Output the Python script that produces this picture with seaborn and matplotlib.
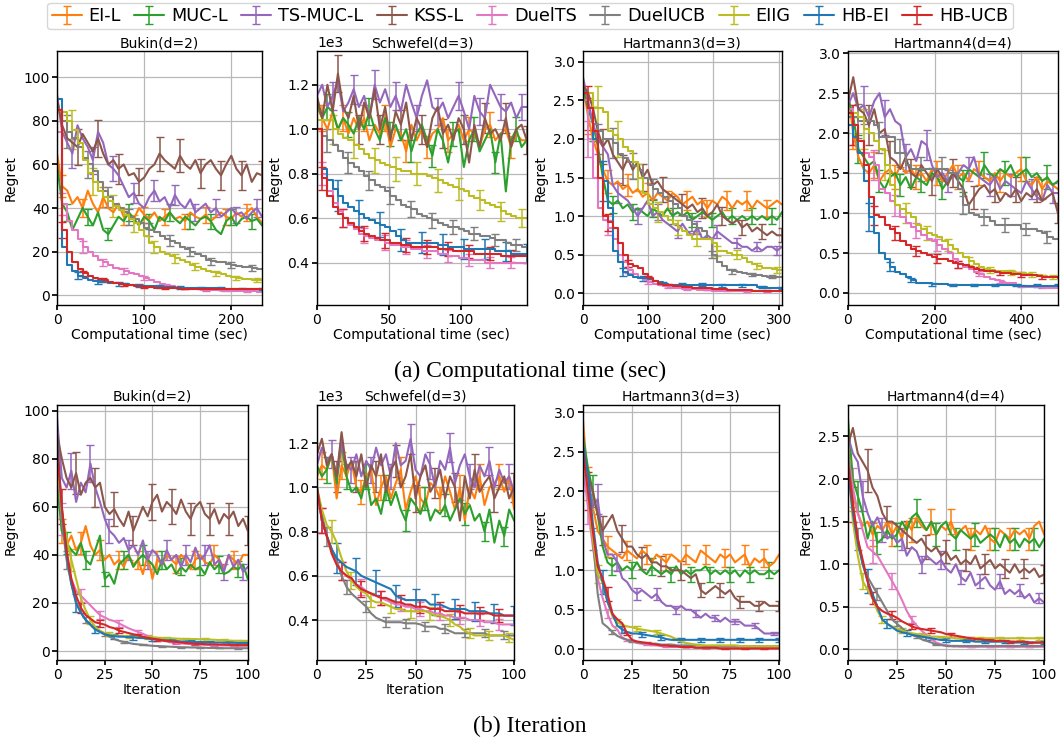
import matplotlib
matplotlib.use("Agg")
import matplotlib.pyplot as plt
import numpy as np
import seaborn as sns

# ---------------------------------------------------------------------------
# Methods / colours
# ---------------------------------------------------------------------------
methods = ["EI-L", "MUC-L", "TS-MUC-L", "KSS-L", "DuelTS", "DuelUCB", "EIIG", "HB-EI", "HB-UCB"]
pal = sns.color_palette("tab10")
colors = [pal[1], pal[2], pal[4], pal[5], pal[6], pal[7], pal[8], pal[0], pal[3]]
err_frac = [0.10, 0.10, 0.10, 0.12, 0.12, 0.10, 0.12, 0.18, 0.12]
noisy = ["EI-L", "MUC-L", "TS-MUC-L", "KSS-L"]

# ---------------------------------------------------------------------------
# (a) Computational time -- values sampled evenly over the visible time range
# ---------------------------------------------------------------------------
# Bukin(d=2), 0..236 sec
bukin_t_eil = [65, 50, 48, 42, 45, 40, 48, 42, 38, 45, 40, 38, 42, 36, 38, 35, 40, 37, 35, 38, 34, 36, 38, 35, 36, 34, 38, 36, 35, 37, 34, 36, 38, 36, 35, 38, 36, 38, 40, 36, 33]
bukin_t_mucl = [60, 42, 38, 30, 35, 40, 36, 32, 38, 30, 28, 32, 36, 34, 38, 35, 32, 36, 34, 30, 36, 34, 38, 35, 33, 36, 34, 32, 35, 36, 34, 30, 28, 34, 36, 32, 35, 36, 34, 35, 32]
bukin_t_tsmucl = [92, 75, 70, 65, 78, 72, 68, 62, 75, 70, 60, 58, 55, 50, 45, 47, 42, 40, 45, 48, 43, 45, 40, 46, 42, 40, 44, 38, 40, 42, 38, 40, 36, 38, 40, 37, 38, 35, 38, 40, 36]
bukin_t_kssl = [90, 78, 72, 70, 68, 74, 70, 66, 72, 65, 60, 62, 58, 60, 55, 56, 52, 54, 58, 60, 65, 62, 60, 58, 64, 60, 58, 62, 56, 60, 62, 58, 55, 60, 64, 58, 55, 60, 52, 56, 55]
bukin_t_dts = [75, 42, 34, 30, 26, 22, 20, 18, 16, 15, 14, 12.5, 12, 11, 10, 9.5, 9, 8, 7, 6, 5, 4.5, 4, 3.5, 3.2, 3, 2.8, 2.6, 2.5, 2.4, 2.3, 2.2, 2.1, 2, 2, 1.9, 1.8, 1.8, 1.7, 1.6, 1.5]
bukin_t_ducb = [85, 80, 75, 72, 68, 63, 60, 57, 52, 48, 45, 42, 40, 38, 36, 35, 33, 31, 30, 29, 27, 26, 25, 24, 22, 21, 20, 19, 18, 16, 15.5, 15, 15, 14.5, 14, 13.5, 13, 13, 12.5, 12, 12]
bukin_t_eiig = [85, 84, 80, 76, 70, 62, 56, 52, 48, 45, 43, 41, 39, 37, 35, 33, 30, 27, 24, 22, 20, 19, 18, 17, 16, 15, 14, 13, 12, 11, 10.5, 10, 9.5, 9, 8.5, 8, 7.5, 7.2, 7, 7, 7]
bukin_t_hbei = [90, 22, 14, 11, 9, 8, 7, 6.5, 6, 6, 5.5, 5.5, 5, 5, 4.8, 4.5, 4.3, 4.2, 4, 4, 3.8, 3.7, 3.6, 3.5, 3.5, 3.4, 3.3, 3.3, 3.2, 3.2, 3.1, 3.1, 3, 3, 3, 3, 2.9, 2.9, 2.9, 2.9, 2.9]
bukin_t_hbucb = [85, 30, 20, 15, 12, 10, 9, 8, 7.5, 7, 6, 5.5, 5, 4.8, 4.5, 4.2, 4, 3.8, 3.6, 3.5, 3.4, 3.3, 3.2, 3.1, 3.0, 3.0, 3.0, 2.9, 2.9, 2.9, 2.8, 2.8, 2.8, 2.7, 2.7, 2.7, 2.6, 2.6, 2.6, 2.6, 2.6]

# Schwefel(d=3), 0..146 sec, regret in units of 1e3
schw_t_eil = [1.10, 1.05, 1.00, 1.08, 1.00, 1.05, 0.98, 1.05, 1.00, 1.05, 0.95, 1.02, 0.98, 1.05, 0.92, 1.00, 0.98, 0.90, 1.02, 0.95, 1.00, 0.92, 0.98, 1.00, 1.05, 0.95, 0.98, 1.02, 0.95, 1.00, 0.98, 0.92, 1.00, 1.02, 0.95, 0.98, 1.00, 0.92, 0.98, 0.95, 0.95]
schw_t_mucl = [1.12, 1.05, 1.10, 1.08, 1.00, 1.05, 1.02, 0.98, 1.05, 1.00, 1.08, 1.00, 0.95, 1.05, 0.98, 1.02, 0.95, 1.00, 0.90, 0.98, 1.02, 0.95, 0.88, 1.00, 0.95, 0.85, 0.98, 1.00, 0.83, 0.95, 1.00, 0.90, 0.95, 1.00, 0.85, 0.98, 0.72, 0.95, 1.00, 0.92, 0.95]
schw_t_tsmucl = [1.15, 1.20, 1.10, 1.15, 1.22, 1.08, 1.12, 1.18, 1.10, 1.15, 1.05, 1.20, 1.12, 1.18, 1.10, 1.15, 1.08, 1.20, 1.12, 1.05, 1.15, 1.22, 1.10, 1.08, 1.12, 1.05, 1.10, 1.15, 1.08, 1.00, 1.15, 1.08, 1.05, 1.20, 1.15, 1.10, 1.08, 1.12, 1.05, 1.10, 1.10]
schw_t_kssl = [1.15, 1.05, 1.20, 1.08, 1.25, 1.10, 1.05, 1.15, 1.00, 1.12, 1.05, 1.18, 1.00, 1.10, 0.95, 1.08, 1.02, 1.12, 0.95, 1.05, 1.00, 0.92, 1.05, 1.10, 0.98, 1.02, 0.95, 1.05, 1.00, 0.85, 1.02, 0.92, 1.05, 0.98, 1.00, 0.95, 1.05, 0.92, 1.00, 1.02, 0.95]
schw_t_dts = [1.00, 0.80, 0.72, 0.67, 0.63, 0.60, 0.57, 0.55, 0.53, 0.52, 0.51, 0.50, 0.50, 0.49, 0.48, 0.48, 0.47, 0.47, 0.46, 0.46, 0.45, 0.45, 0.45, 0.44, 0.44, 0.43, 0.43, 0.42, 0.42, 0.41, 0.41, 0.41, 0.40, 0.40, 0.40, 0.40, 0.40, 0.40, 0.40, 0.40, 0.40]
schw_t_ducb = [1.00, 0.97, 0.95, 0.93, 0.90, 0.87, 0.85, 0.83, 0.81, 0.79, 0.77, 0.75, 0.74, 0.72, 0.70, 0.68, 0.66, 0.65, 0.64, 0.62, 0.61, 0.60, 0.59, 0.58, 0.57, 0.56, 0.56, 0.55, 0.54, 0.53, 0.53, 0.52, 0.52, 0.51, 0.50, 0.50, 0.49, 0.48, 0.48, 0.47, 0.47]
schw_t_eiig = [1.04, 1.04, 1.04, 1.00, 0.98, 0.96, 0.95, 0.93, 0.91, 0.89, 0.87, 0.86, 0.85, 0.84, 0.83, 0.82, 0.81, 0.81, 0.80, 0.80, 0.80, 0.79, 0.78, 0.77, 0.76, 0.75, 0.74, 0.73, 0.72, 0.70, 0.69, 0.68, 0.67, 0.66, 0.65, 0.63, 0.62, 0.61, 0.60, 0.60, 0.60]
schw_t_hbei = [1.00, 0.82, 0.77, 0.73, 0.70, 0.67, 0.65, 0.63, 0.62, 0.60, 0.59, 0.58, 0.57, 0.56, 0.54, 0.52, 0.50, 0.49, 0.49, 0.49, 0.49, 0.49, 0.49, 0.48, 0.48, 0.47, 0.47, 0.47, 0.46, 0.46, 0.46, 0.46, 0.46, 0.46, 0.45, 0.45, 0.45, 0.44, 0.44, 0.44, 0.44]
schw_t_hbucb = [1.00, 0.78, 0.70, 0.65, 0.62, 0.60, 0.58, 0.56, 0.54, 0.53, 0.52, 0.51, 0.50, 0.50, 0.49, 0.49, 0.48, 0.48, 0.47, 0.47, 0.47, 0.47, 0.47, 0.46, 0.46, 0.46, 0.45, 0.45, 0.45, 0.45, 0.44, 0.44, 0.44, 0.44, 0.44, 0.43, 0.43, 0.43, 0.43, 0.43, 0.43]

# Hartmann3(d=3), 0..305 sec
h3_t_eil = [2.7, 2.3, 2.0, 1.8, 1.6, 1.45, 1.4, 1.45, 1.35, 1.4, 1.3, 1.35, 1.25, 1.3, 1.2, 1.3, 1.25, 1.2, 1.3, 1.25, 1.15, 1.2, 1.25, 1.15, 1.2, 1.1, 1.2, 1.15, 1.25, 1.2, 1.1, 1.2, 1.15, 1.2, 1.1, 1.2, 1.15, 1.1, 1.15, 1.2, 1.15]
h3_t_mucl = [2.7, 2.4, 2.2, 1.9, 1.5, 1.2, 1.15, 1.2, 1.1, 1.15, 1.05, 1.1, 1.05, 1.0, 1.1, 1.05, 1.0, 1.1, 1.0, 1.05, 1.0, 1.05, 0.95, 1.0, 1.05, 1.0, 0.95, 1.0, 1.05, 0.95, 1.0, 0.95, 1.0, 0.95, 1.0, 0.95, 1.0, 0.95, 1.0, 0.95, 1.05]
h3_t_tsmucl = [2.8, 2.5, 2.2, 2.0, 1.9, 1.8, 1.4, 1.3, 1.25, 1.2, 1.1, 1.0, 1.1, 1.2, 1.0, 1.05, 0.95, 0.9, 0.85, 0.8, 0.9, 0.8, 0.75, 0.85, 0.7, 0.75, 0.7, 0.8, 0.75, 0.7, 0.65, 0.65, 0.6, 0.6, 0.55, 0.6, 0.55, 0.6, 0.6, 0.55, 0.6]
h3_t_kssl = [2.7, 2.6, 2.4, 2.1, 1.9, 2.0, 1.8, 1.7, 1.6, 1.75, 1.6, 1.7, 1.5, 1.6, 1.4, 1.45, 1.35, 1.3, 1.25, 1.2, 1.15, 1.1, 1.15, 1.05, 1.1, 1.0, 1.05, 1.15, 1.0, 0.95, 0.9, 0.95, 0.85, 0.9, 0.8, 0.85, 0.8, 0.75, 0.8, 0.75, 0.75]
h3_t_dts = [2.5, 2.0, 1.5, 1.1, 0.95, 0.85, 0.7, 0.5, 0.4, 0.3, 0.25, 0.2, 0.17, 0.14, 0.12, 0.1, 0.09, 0.08, 0.07, 0.06, 0.05, 0.05, 0.05, 0.04, 0.04, 0.04, 0.03, 0.03, 0.03, 0.03, 0.03, 0.02, 0.02, 0.02, 0.02, 0.02, 0.02, 0.02, 0.02, 0.02, 0.02]
h3_t_ducb = [2.6, 2.4, 2.2, 2.1, 2.0, 2.0, 1.95, 1.8, 1.75, 1.7, 1.65, 1.6, 1.5, 1.4, 1.35, 1.3, 1.25, 1.2, 1.15, 1.1, 1.0, 0.95, 0.9, 0.85, 0.8, 0.7, 0.5, 0.4, 0.35, 0.3, 0.28, 0.27, 0.26, 0.25, 0.24, 0.23, 0.22, 0.21, 0.21, 0.21, 0.21]
h3_t_eiig = [2.6, 2.6, 2.4, 2.4, 2.35, 2.1, 2.05, 2.0, 1.9, 1.85, 1.7, 1.5, 1.3, 1.15, 1.1, 1.05, 1.0, 0.95, 0.9, 0.85, 0.8, 0.75, 0.7, 0.7, 0.7, 0.7, 0.65, 0.55, 0.55, 0.52, 0.5, 0.5, 0.45, 0.4, 0.38, 0.35, 0.33, 0.32, 0.31, 0.3, 0.3]
h3_t_hbei = [2.6, 2.4, 2.0, 1.7, 1.45, 1.1, 0.55, 0.4, 0.27, 0.24, 0.21, 0.2, 0.19, 0.18, 0.16, 0.14, 0.12, 0.11, 0.11, 0.11, 0.11, 0.11, 0.11, 0.11, 0.11, 0.11, 0.11, 0.1, 0.1, 0.1, 0.1, 0.1, 0.1, 0.1, 0.1, 0.08, 0.08, 0.07, 0.07, 0.07, 0.07]
h3_t_hbucb = [2.6, 2.4, 2.1, 1.5, 1.0, 0.92, 0.85, 0.65, 0.5, 0.38, 0.35, 0.32, 0.25, 0.2, 0.15, 0.12, 0.1, 0.1, 0.09, 0.09, 0.08, 0.08, 0.07, 0.07, 0.06, 0.06, 0.05, 0.05, 0.05, 0.04, 0.04, 0.04, 0.04, 0.04, 0.03, 0.03, 0.03, 0.03, 0.03, 0.03, 0.03]

# Hartmann4(d=4), 0..485 sec
h4_t_eil = [2.5, 2.0, 1.7, 1.55, 1.5, 1.6, 1.4, 1.5, 1.55, 1.45, 1.6, 1.5, 1.55, 1.45, 1.5, 1.4, 1.55, 1.5, 1.4, 1.5, 1.6, 1.45, 1.5, 1.4, 1.55, 1.5, 1.45, 1.4, 1.5, 1.4, 1.5, 1.45, 1.5, 1.55, 1.4, 1.35, 1.45, 1.3, 1.4, 1.35, 1.3]
h4_t_mucl = [2.45, 2.2, 1.8, 1.7, 1.6, 1.65, 1.4, 1.3, 1.45, 1.5, 1.35, 1.45, 1.3, 1.45, 1.4, 1.35, 1.5, 1.45, 1.3, 1.4, 1.5, 1.45, 1.4, 1.55, 1.5, 1.45, 1.6, 1.5, 1.45, 1.55, 1.5, 1.6, 1.45, 1.5, 1.55, 1.45, 1.5, 1.4, 1.45, 1.35, 1.4]
h4_t_tsmucl = [2.35, 2.5, 2.3, 2.35, 2.2, 2.4, 2.5, 2.2, 2.3, 2.15, 2.1, 1.7, 1.8, 1.65, 1.9, 1.85, 1.6, 1.45, 1.5, 1.4, 1.45, 1.5, 1.6, 1.55, 1.7, 1.45, 1.4, 1.35, 1.45, 1.3, 1.4, 1.35, 1.3, 1.25, 1.4, 1.3, 1.2, 1.15, 1.35, 1.25, 1.25]
h4_t_kssl = [2.4, 2.7, 2.3, 2.25, 2.1, 2.3, 2.0, 2.05, 1.7, 1.65, 1.55, 1.7, 1.5, 1.45, 1.6, 1.5, 1.4, 1.55, 1.45, 1.35, 1.5, 1.4, 1.3, 1.1, 1.2, 1.3, 1.35, 1.25, 1.3, 1.15, 1.25, 1.2, 1.3, 1.15, 1.25, 1.2, 1.3, 1.15, 1.2, 1.25, 1.0]
h4_t_dts = [2.3, 2.1, 1.9, 1.75, 1.7, 1.6, 1.3, 1.25, 1.15, 1.1, 0.95, 0.87, 0.83, 0.78, 0.72, 0.68, 0.65, 0.6, 0.55, 0.5, 0.42, 0.36, 0.33, 0.3, 0.26, 0.24, 0.2, 0.18, 0.16, 0.14, 0.13, 0.12, 0.1, 0.09, 0.08, 0.08, 0.07, 0.07, 0.06, 0.06, 0.06]
h4_t_ducb = [2.2, 2.2, 2.15, 2.15, 2.15, 2.1, 1.95, 1.95, 1.95, 1.75, 1.75, 1.6, 1.55, 1.55, 1.55, 1.55, 1.55, 1.55, 1.55, 1.5, 1.5, 1.3, 1.1, 1.0, 0.98, 0.95, 0.95, 0.9, 0.85, 0.85, 0.85, 0.85, 0.85, 0.8, 0.8, 0.8, 0.78, 0.75, 0.7, 0.68, 0.68]
h4_t_eiig = [2.25, 2.25, 2.2, 2.05, 2.0, 1.9, 1.8, 1.6, 1.35, 1.1, 1.05, 1.0, 0.95, 0.85, 0.8, 0.75, 0.72, 0.7, 0.65, 0.6, 0.55, 0.5, 0.45, 0.4, 0.36, 0.33, 0.3, 0.29, 0.28, 0.28, 0.27, 0.26, 0.25, 0.25, 0.24, 0.23, 0.22, 0.21, 0.2, 0.2, 0.2]
h4_t_hbei = [2.1, 1.95, 1.75, 1.4, 0.95, 0.75, 0.5, 0.42, 0.33, 0.26, 0.24, 0.2, 0.16, 0.13, 0.12, 0.12, 0.11, 0.11, 0.11, 0.1, 0.1, 0.1, 0.1, 0.1, 0.1, 0.1, 0.1, 0.1, 0.1, 0.1, 0.1, 0.1, 0.1, 0.09, 0.09, 0.09, 0.09, 0.09, 0.09, 0.09, 0.09]
h4_t_hbucb = [2.25, 2.1, 1.9, 1.6, 1.2, 0.97, 0.95, 0.85, 0.8, 0.75, 0.65, 0.6, 0.55, 0.52, 0.5, 0.48, 0.45, 0.43, 0.42, 0.4, 0.38, 0.36, 0.35, 0.33, 0.3, 0.29, 0.28, 0.27, 0.26, 0.25, 0.25, 0.24, 0.24, 0.23, 0.22, 0.22, 0.21, 0.2, 0.2, 0.2, 0.19]

# ---------------------------------------------------------------------------
# (b) Iteration -- values every 2.5 iterations, 0..100
# ---------------------------------------------------------------------------
bukin_i_eil = [75, 50, 44, 48, 42, 45, 52, 44, 40, 42, 38, 40, 36, 38, 35, 40, 36, 38, 32, 40, 30, 38, 36, 40, 38, 36, 40, 38, 34, 38, 40, 37, 36, 40, 38, 34, 40, 38, 36, 40, 40]
bukin_i_mucl = [70, 50, 45, 42, 40, 45, 38, 36, 42, 48, 30, 32, 28, 36, 38, 40, 35, 38, 40, 38, 36, 32, 38, 34, 36, 32, 35, 33, 36, 34, 35, 32, 37, 34, 36, 32, 33, 35, 34, 36, 30]
bukin_i_tsmucl = [97, 72, 68, 75, 62, 70, 66, 78, 68, 62, 55, 50, 48, 45, 47, 42, 44, 40, 46, 38, 42, 40, 36, 42, 38, 40, 35, 40, 37, 43, 38, 40, 44, 36, 38, 33, 40, 35, 38, 33, 35]
bukin_i_kssl = [90, 80, 72, 68, 74, 65, 70, 72, 68, 70, 60, 57, 59, 55, 52, 58, 50, 55, 60, 56, 62, 65, 58, 62, 60, 57, 63, 58, 55, 60, 62, 57, 55, 59, 53, 57, 55, 58, 52, 55, 50]
bukin_i_dts = [80, 55, 40, 30, 25, 23, 21, 19, 17, 15, 14, 13, 12.5, 11.5, 10.5, 9.5, 8.7, 8, 7.2, 6.3, 5.3, 4.8, 4.3, 4, 3.7, 3.4, 3.2, 3, 2.9, 2.8, 2.7, 2.6, 2.5, 2.4, 2.4, 2.3, 2.3, 2.2, 2.2, 2.2, 2.2]
bukin_i_ducb = [85, 55, 38, 28, 20, 16, 13, 11, 9, 8, 7, 6, 5, 4.3, 3.8, 3.4, 3.0, 2.8, 2.6, 2.4, 2.2, 2.1, 2.0, 1.9, 1.8, 1.7, 1.6, 1.6, 1.5, 1.5, 1.4, 1.4, 1.3, 1.3, 1.3, 1.2, 1.2, 1.2, 1.2, 1.2, 1.2]
bukin_i_eiig = [80, 58, 47, 38, 30, 22, 17, 13, 10, 8.5, 7.5, 7, 6.5, 6.3, 6.2, 6.0, 6.0, 6.0, 5.9, 5.8, 5.7, 5.6, 5.5, 5.4, 5.3, 5.2, 5.1, 5.0, 5.0, 5.0, 4.9, 4.8, 4.8, 4.7, 4.6, 4.5, 4.4, 4.3, 4.3, 4.2, 4.2]
bukin_i_hbei = [88, 60, 40, 28, 20, 16, 13, 11, 9, 8, 7, 6.5, 6.2, 6, 6, 5.8, 5.8, 5.5, 5.4, 5.2, 5.0, 4.8, 4.6, 4.5, 4.4, 4.2, 4.0, 4.0, 3.9, 3.8, 3.8, 3.7, 3.7, 3.6, 3.6, 3.5, 3.5, 3.5, 3.4, 3.4, 3.4]
bukin_i_hbucb = [85, 60, 42, 30, 23, 18, 15, 13.5, 12, 11.5, 11, 10, 9.5, 8.5, 8, 7.5, 7, 6.5, 6, 5.5, 5.2, 4.8, 4.5, 4.2, 4.0, 3.8, 3.6, 3.4, 3.2, 3.0, 3.0, 2.9, 2.8, 2.8, 2.7, 2.7, 2.6, 2.6, 2.5, 2.5, 2.5]

# Schwefel, regret in units of 1e3
schw_i_eil = [1.05, 1.10, 1.08, 1.15, 0.95, 1.10, 1.05, 1.12, 1.00, 0.98, 1.05, 1.08, 0.92, 1.00, 1.05, 0.95, 1.02, 1.08, 0.90, 0.98, 1.05, 0.95, 0.92, 1.02, 1.00, 0.95, 1.05, 0.98, 0.90, 1.00, 0.85, 1.00, 0.95, 1.05, 0.92, 1.00, 1.02, 1.05, 0.98, 1.05, 0.90]
schw_i_mucl = [1.10, 1.05, 1.08, 1.15, 1.02, 1.20, 1.05, 0.98, 1.00, 0.95, 1.05, 0.92, 0.95, 0.88, 1.00, 0.92, 0.98, 0.90, 0.85, 0.95, 0.92, 0.88, 0.95, 0.85, 0.90, 0.88, 0.92, 0.85, 0.90, 0.95, 0.88, 0.92, 0.85, 0.88, 0.80, 0.90, 0.75, 0.85, 0.78, 0.90, 0.85]
schw_i_tsmucl = [1.10, 1.18, 1.12, 1.15, 1.05, 1.20, 1.10, 1.08, 1.15, 1.05, 1.12, 1.08, 1.18, 1.10, 1.15, 1.05, 1.20, 1.10, 1.12, 1.22, 1.08, 1.05, 1.15, 1.10, 1.00, 1.12, 1.08, 1.18, 1.02, 1.10, 1.15, 1.05, 1.00, 1.10, 1.05, 1.12, 1.00, 1.08, 1.02, 1.05, 0.98]
schw_i_kssl = [1.15, 1.22, 1.10, 1.15, 1.05, 1.25, 1.08, 1.12, 1.05, 1.15, 1.00, 1.10, 1.05, 1.15, 0.98, 1.08, 1.12, 1.00, 1.05, 1.15, 0.95, 1.05, 1.10, 0.98, 1.02, 1.08, 0.95, 1.05, 1.00, 0.85, 1.05, 0.95, 1.08, 0.98, 1.02, 1.05, 0.95, 1.00, 1.05, 0.95, 1.00]
schw_i_dts = [1.00, 0.85, 0.78, 0.72, 0.66, 0.62, 0.60, 0.58, 0.56, 0.55, 0.53, 0.52, 0.51, 0.50, 0.49, 0.48, 0.47, 0.47, 0.46, 0.46, 0.45, 0.45, 0.44, 0.44, 0.43, 0.43, 0.42, 0.42, 0.41, 0.41, 0.41, 0.40, 0.40, 0.40, 0.39, 0.39, 0.39, 0.38, 0.38, 0.38, 0.38]
schw_i_ducb = [1.00, 0.88, 0.78, 0.72, 0.67, 0.60, 0.55, 0.52, 0.50, 0.48, 0.46, 0.43, 0.41, 0.40, 0.39, 0.39, 0.39, 0.39, 0.385, 0.385, 0.385, 0.38, 0.37, 0.37, 0.37, 0.36, 0.36, 0.35, 0.34, 0.34, 0.34, 0.34, 0.34, 0.34, 0.34, 0.33, 0.33, 0.33, 0.33, 0.33, 0.33]
schw_i_eiig = [1.00, 0.90, 0.83, 0.80, 0.75, 0.68, 0.62, 0.58, 0.55, 0.53, 0.52, 0.49, 0.48, 0.48, 0.47, 0.46, 0.45, 0.45, 0.44, 0.44, 0.44, 0.44, 0.44, 0.43, 0.42, 0.42, 0.41, 0.40, 0.38, 0.37, 0.35, 0.34, 0.33, 0.33, 0.33, 0.33, 0.33, 0.33, 0.33, 0.32, 0.31]
schw_i_hbei = [1.00, 0.85, 0.78, 0.72, 0.68, 0.66, 0.64, 0.63, 0.62, 0.60, 0.59, 0.58, 0.57, 0.56, 0.55, 0.54, 0.51, 0.50, 0.49, 0.49, 0.49, 0.49, 0.49, 0.47, 0.47, 0.47, 0.46, 0.45, 0.45, 0.45, 0.45, 0.44, 0.44, 0.44, 0.44, 0.43, 0.43, 0.43, 0.42, 0.42, 0.42]
schw_i_hbucb = [1.00, 0.85, 0.78, 0.70, 0.65, 0.62, 0.60, 0.59, 0.56, 0.54, 0.53, 0.52, 0.51, 0.50, 0.50, 0.49, 0.48, 0.48, 0.47, 0.47, 0.46, 0.46, 0.46, 0.45, 0.45, 0.45, 0.44, 0.44, 0.44, 0.44, 0.43, 0.43, 0.43, 0.43, 0.43, 0.43, 0.42, 0.42, 0.42, 0.42, 0.42]

h3_i_eil = [2.9, 2.1, 1.8, 1.5, 1.4, 1.3, 1.25, 1.2, 1.15, 1.25, 1.2, 1.15, 1.25, 1.2, 1.1, 1.2, 1.15, 1.1, 1.2, 1.15, 1.1, 1.2, 1.15, 1.1, 1.25, 1.2, 1.15, 1.1, 1.2, 1.15, 1.2, 1.1, 1.15, 1.2, 1.05, 1.15, 1.1, 1.15, 1.05, 1.1, 1.2]
h3_i_mucl = [2.7, 2.3, 2.0, 1.7, 1.3, 1.1, 1.05, 1.1, 1.0, 1.05, 1.0, 1.1, 1.0, 0.95, 1.05, 1.0, 0.95, 1.0, 0.95, 1.05, 0.95, 1.0, 0.95, 1.0, 1.0, 1.05, 0.95, 1.0, 0.95, 1.0, 0.95, 1.0, 0.92, 1.0, 0.95, 1.0, 0.95, 0.95, 1.0, 0.95, 1.0]
h3_i_tsmucl = [2.5, 2.2, 1.8, 1.9, 1.4, 1.2, 1.2, 1.1, 0.9, 0.85, 0.75, 0.7, 0.75, 0.7, 0.65, 0.7, 0.6, 0.55, 0.55, 0.5, 0.55, 0.5, 0.5, 0.45, 0.4, 0.45, 0.4, 0.4, 0.35, 0.4, 0.35, 0.35, 0.35, 0.3, 0.3, 0.3, 0.25, 0.2, 0.2, 0.2, 0.2]
h3_i_kssl = [2.6, 2.2, 2.0, 1.7, 1.5, 1.6, 1.7, 1.5, 1.4, 1.3, 1.3, 1.2, 1.15, 1.2, 1.1, 1.1, 1.05, 1.05, 1.0, 1.0, 1.0, 0.95, 0.9, 0.95, 0.75, 0.7, 0.75, 0.8, 0.75, 0.7, 0.75, 0.65, 0.6, 0.6, 0.6, 0.55, 0.55, 0.6, 0.55, 0.55, 0.55]
h3_i_dts = [2.3, 1.8, 1.3, 0.9, 0.65, 0.45, 0.3, 0.25, 0.15, 0.12, 0.1, 0.08, 0.07, 0.06, 0.05, 0.05, 0.04, 0.04, 0.03, 0.03, 0.03, 0.03, 0.03, 0.02, 0.02, 0.02, 0.02, 0.02, 0.02, 0.02, 0.02, 0.02, 0.02, 0.02, 0.02, 0.02, 0.02, 0.02, 0.02, 0.02, 0.02]
h3_i_ducb = [2.7, 2.0, 1.4, 0.7, 0.33, 0.28, 0.22, 0.17, 0.14, 0.12, 0.1, 0.09, 0.08, 0.08, 0.07, 0.07, 0.06, 0.06, 0.06, 0.05, 0.05, 0.05, 0.05, 0.05, 0.05, 0.04, 0.04, 0.04, 0.04, 0.04, 0.04, 0.04, 0.04, 0.04, 0.04, 0.04, 0.04, 0.04, 0.04, 0.04, 0.04]
h3_i_eiig = [2.6, 2.0, 1.4, 0.95, 0.85, 0.6, 0.42, 0.34, 0.31, 0.29, 0.28, 0.26, 0.25, 0.24, 0.23, 0.22, 0.2, 0.18, 0.16, 0.13, 0.1, 0.08, 0.07, 0.06, 0.05, 0.05, 0.05, 0.05, 0.05, 0.05, 0.05, 0.05, 0.04, 0.04, 0.04, 0.04, 0.04, 0.04, 0.04, 0.04, 0.04]
h3_i_hbei = [2.6, 2.2, 1.6, 1.1, 0.85, 0.6, 0.45, 0.3, 0.25, 0.22, 0.2, 0.2, 0.19, 0.18, 0.17, 0.16, 0.15, 0.13, 0.12, 0.12, 0.12, 0.12, 0.12, 0.12, 0.12, 0.12, 0.12, 0.12, 0.12, 0.12, 0.12, 0.12, 0.12, 0.12, 0.12, 0.12, 0.12, 0.12, 0.12, 0.12, 0.12]
h3_i_hbucb = [2.5, 2.0, 1.5, 1.05, 0.9, 0.7, 0.45, 0.38, 0.33, 0.2, 0.12, 0.1, 0.09, 0.08, 0.07, 0.06, 0.05, 0.05, 0.04, 0.04, 0.03, 0.03, 0.03, 0.02, 0.02, 0.02, 0.02, 0.02, 0.01, 0.01, 0.01, 0.01, 0.01, 0.01, 0.01, 0.01, 0.01, 0.01, 0.01, 0.01, 0.01]

h4_i_eil = [2.4, 1.8, 1.6, 1.45, 1.5, 1.35, 1.45, 1.4, 1.5, 1.35, 1.45, 1.3, 1.5, 1.4, 1.55, 1.45, 1.4, 1.5, 1.35, 1.45, 1.4, 1.5, 1.35, 1.4, 1.45, 1.3, 1.4, 1.35, 1.45, 1.3, 1.25, 1.4, 1.35, 1.3, 1.4, 1.35, 1.4, 1.3, 1.45, 1.5, 1.35]
h4_i_mucl = [2.7, 2.0, 1.8, 1.6, 1.3, 1.5, 1.25, 1.3, 1.4, 1.3, 1.35, 1.5, 1.4, 1.55, 1.6, 1.5, 1.4, 1.5, 1.35, 1.45, 1.5, 1.35, 1.3, 1.4, 1.35, 1.3, 1.35, 1.25, 1.3, 1.35, 1.3, 1.2, 1.35, 1.25, 1.3, 1.2, 1.3, 1.25, 1.3, 1.2, 1.3]
h4_i_tsmucl = [2.5, 2.3, 2.2, 1.8, 1.6, 1.45, 1.55, 1.4, 1.3, 1.35, 1.25, 1.3, 1.1, 1.2, 1.15, 1.0, 1.1, 1.05, 1.0, 1.05, 0.95, 0.9, 1.0, 0.85, 0.8, 0.9, 0.75, 0.8, 0.85, 0.75, 0.7, 0.8, 0.65, 0.7, 0.65, 0.7, 0.6, 0.65, 0.55, 0.6, 0.55]
h4_i_kssl = [2.4, 2.6, 2.3, 2.2, 2.1, 1.9, 1.8, 1.6, 1.5, 1.5, 1.45, 1.4, 1.35, 1.3, 1.25, 1.3, 1.2, 1.15, 1.2, 1.1, 1.15, 1.05, 1.1, 1.0, 1.05, 1.0, 1.1, 0.95, 1.0, 1.05, 0.95, 1.0, 0.95, 0.9, 1.0, 0.9, 0.95, 0.9, 0.95, 0.85, 0.88]
h4_i_dts = [2.3, 1.9, 1.6, 1.4, 1.2, 1.15, 1.1, 1.0, 0.9, 0.8, 0.7, 0.58, 0.45, 0.35, 0.28, 0.22, 0.17, 0.12, 0.08, 0.06, 0.05, 0.04, 0.04, 0.03, 0.03, 0.03, 0.03, 0.03, 0.03, 0.03, 0.03, 0.03, 0.03, 0.03, 0.03, 0.03, 0.03, 0.03, 0.03, 0.03, 0.03]
h4_i_ducb = [2.3, 1.7, 1.3, 1.0, 0.85, 0.75, 0.65, 0.55, 0.45, 0.35, 0.3, 0.25, 0.2, 0.17, 0.15, 0.12, 0.1, 0.08, 0.06, 0.05, 0.04, 0.04, 0.04, 0.04, 0.04, 0.04, 0.04, 0.04, 0.04, 0.04, 0.04, 0.04, 0.04, 0.04, 0.04, 0.04, 0.04, 0.04, 0.04, 0.04, 0.04]
h4_i_eiig = [2.2, 1.5, 1.1, 0.8, 0.7, 0.6, 0.45, 0.35, 0.3, 0.27, 0.24, 0.22, 0.2, 0.19, 0.18, 0.17, 0.16, 0.15, 0.15, 0.14, 0.14, 0.14, 0.13, 0.13, 0.13, 0.13, 0.13, 0.13, 0.13, 0.13, 0.13, 0.13, 0.13, 0.13, 0.13, 0.13, 0.13, 0.13, 0.13, 0.13, 0.13]
h4_i_hbei = [2.1, 1.6, 1.25, 1.0, 0.8, 0.65, 0.5, 0.35, 0.3, 0.26, 0.22, 0.2, 0.19, 0.17, 0.16, 0.15, 0.14, 0.13, 0.12, 0.11, 0.11, 0.1, 0.1, 0.1, 0.1, 0.1, 0.09, 0.09, 0.09, 0.09, 0.09, 0.09, 0.09, 0.09, 0.08, 0.08, 0.08, 0.08, 0.08, 0.08, 0.08]
h4_i_hbucb = [2.2, 1.7, 1.3, 1.05, 0.8, 0.6, 0.5, 0.45, 0.42, 0.4, 0.37, 0.33, 0.3, 0.27, 0.25, 0.24, 0.23, 0.22, 0.21, 0.2, 0.18, 0.17, 0.16, 0.15, 0.14, 0.13, 0.12, 0.12, 0.11, 0.11, 0.1, 0.1, 0.1, 0.09, 0.09, 0.09, 0.09, 0.08, 0.08, 0.08, 0.08]

# ---------------------------------------------------------------------------
# Panel definitions
# ---------------------------------------------------------------------------
panels = [
    dict(title="Bukin(d=2)", xmax=236, ylim=(-4.5, 112), yticks=[0, 20, 40, 60, 80, 100],
         xticks=[0, 100, 200], xlabel="Computational time (sec)", scale=1, time=True, err=1.0,
         rect=[0.0538, 0.589, 0.1934, 0.342],
         data=[bukin_t_eil, bukin_t_mucl, bukin_t_tsmucl, bukin_t_kssl, bukin_t_dts,
               bukin_t_ducb, bukin_t_eiig, bukin_t_hbei, bukin_t_hbucb]),
    dict(title="Schwefel(d=3)", xmax=146, ylim=(209, 1351), yticks=[400, 600, 800, 1000, 1200],
         xticks=[0, 50, 100], xlabel="Computational time (sec)", scale=1e3, time=True, err=0.55,
         rect=[0.299, 0.589, 0.198, 0.342],
         data=[schw_t_eil, schw_t_mucl, schw_t_tsmucl, schw_t_kssl, schw_t_dts,
               schw_t_ducb, schw_t_eiig, schw_t_hbei, schw_t_hbucb]),
    dict(title="Hartmann3(d=3)", xmax=305, ylim=(-0.155, 3.14), yticks=[0, 0.5, 1.0, 1.5, 2.0, 2.5, 3.0],
         xticks=[0, 100, 200, 300], xlabel="Computational time (sec)", scale=1, time=True, err=1.0,
         rect=[0.550, 0.589, 0.1877, 0.342],
         data=[h3_t_eil, h3_t_mucl, h3_t_tsmucl, h3_t_kssl, h3_t_dts,
               h3_t_ducb, h3_t_eiig, h3_t_hbei, h3_t_hbucb]),
    dict(title="Hartmann4(d=4)", xmax=485, ylim=(-0.15, 3.025), yticks=[0, 0.5, 1.0, 1.5, 2.0, 2.5, 3.0],
         xticks=[0, 200, 400], xlabel="Computational time (sec)", scale=1, time=True, err=1.0,
         rect=[0.800, 0.589, 0.198, 0.342],
         data=[h4_t_eil, h4_t_mucl, h4_t_tsmucl, h4_t_kssl, h4_t_dts,
               h4_t_ducb, h4_t_eiig, h4_t_hbei, h4_t_hbucb]),
    dict(title="Bukin(d=2)", xmax=100, ylim=(-3.7, 102.4), yticks=[0, 20, 40, 60, 80, 100],
         xticks=[0, 25, 50, 75, 100], xlabel="Iteration", scale=1, time=False, err=1.0,
         rect=[0.0538, 0.1105, 0.180, 0.344],
         data=[bukin_i_eil, bukin_i_mucl, bukin_i_tsmucl, bukin_i_kssl, bukin_i_dts,
               bukin_i_ducb, bukin_i_eiig, bukin_i_hbei, bukin_i_hbucb]),
    dict(title="Schwefel(d=3)", xmax=100, ylim=(219, 1374), yticks=[400, 600, 800, 1000, 1200],
         xticks=[0, 25, 50, 75, 100], xlabel="Iteration", scale=1e3, time=False, err=0.55,
         rect=[0.299, 0.1105, 0.186, 0.344],
         data=[schw_i_eil, schw_i_mucl, schw_i_tsmucl, schw_i_kssl, schw_i_dts,
               schw_i_ducb, schw_i_eiig, schw_i_hbei, schw_i_hbucb]),
    dict(title="Hartmann3(d=3)", xmax=100, ylim=(-0.135, 3.093), yticks=[0, 0.5, 1.0, 1.5, 2.0, 2.5, 3.0],
         xticks=[0, 25, 50, 75, 100], xlabel="Iteration", scale=1, time=False, err=1.0,
         rect=[0.550, 0.1105, 0.185, 0.344],
         data=[h3_i_eil, h3_i_mucl, h3_i_tsmucl, h3_i_kssl, h3_i_dts,
               h3_i_ducb, h3_i_eiig, h3_i_hbei, h3_i_hbucb]),
    dict(title="Hartmann4(d=4)", xmax=100, ylim=(-0.125, 2.872), yticks=[0, 0.5, 1.0, 1.5, 2.0, 2.5],
         xticks=[0, 25, 50, 75, 100], xlabel="Iteration", scale=1, time=False, err=1.0,
         rect=[0.800, 0.1105, 0.185, 0.344],
         data=[h4_i_eil, h4_i_mucl, h4_i_tsmucl, h4_i_kssl, h4_i_dts,
               h4_i_ducb, h4_i_eiig, h4_i_hbei, h4_i_hbucb]),
]

# ---------------------------------------------------------------------------
# Style
# ---------------------------------------------------------------------------
sns.set_theme(style="whitegrid", rc={
    "axes.edgecolor": "black", "axes.linewidth": 1.0,
    "grid.color": "#b8b8b8", "grid.linewidth": 0.9,
    "xtick.bottom": True, "ytick.left": True,
    "xtick.major.size": 3.5, "ytick.major.size": 3.5,
    "xtick.color": "black", "ytick.color": "black",
    "axes.labelcolor": "black", "text.color": "black",
    "font.size": 10, "axes.titlesize": 10, "axes.labelsize": 10,
    "xtick.labelsize": 10, "ytick.labelsize": 10,
})
plt.rcParams["font.family"] = ["DejaVu Sans"]

fig = plt.figure(figsize=(10.6, 7.42), dpi=100)
handles = None

for p in panels:
    ax = fig.add_axes(p["rect"])
    hs = []
    for i, (name, vals) in enumerate(zip(methods, p["data"])):
        y = np.asarray(vals, dtype=float) * p["scale"]
        x = np.linspace(0, p["xmax"], len(y))
        style = "steps-post" if (p["time"] and name not in noisy) else "default"
        h = ax.errorbar(x, y, yerr=p["err"] * err_frac[i] * np.abs(y), color=colors[i], lw=1.5,
                        elinewidth=1.1, capsize=3, errorevery=(i % 4 + 1, 4),
                        drawstyle=style, label=name)
        hs.append(h)
    if handles is None:
        handles = hs
    ax.set_xlim(0, p["xmax"])
    ax.set_ylim(*p["ylim"])
    ax.set_xticks(p["xticks"])
    ax.set_yticks(p["yticks"])
    if p["scale"] != 1:
        ax.ticklabel_format(axis="y", style="sci", scilimits=(3, 3))
    ax.set_title(p["title"], pad=3)
    ax.set_xlabel(p["xlabel"], labelpad=1)
    ax.set_ylabel("Regret")
    ax.tick_params(pad=2)
    for s in ax.spines.values():
        s.set_color("black")

fig.legend(handles, methods, loc="upper center", bbox_to_anchor=(0.5, 1.0), ncol=9,
           fontsize=12.7, frameon=True, edgecolor="#cccccc", handlelength=1.7,
           handletextpad=0.4, columnspacing=0.75, borderpad=0.25, borderaxespad=0.15)

fig.text(0.5, 0.5, "(a) Computational time (sec)", ha="center", va="center",
         family="Liberation Serif", fontsize=17)
fig.text(0.5, 0.0216, "(b) Iteration", ha="center", va="center",
         family="Liberation Serif", fontsize=17)

fig.savefig("out.png", dpi=100)
